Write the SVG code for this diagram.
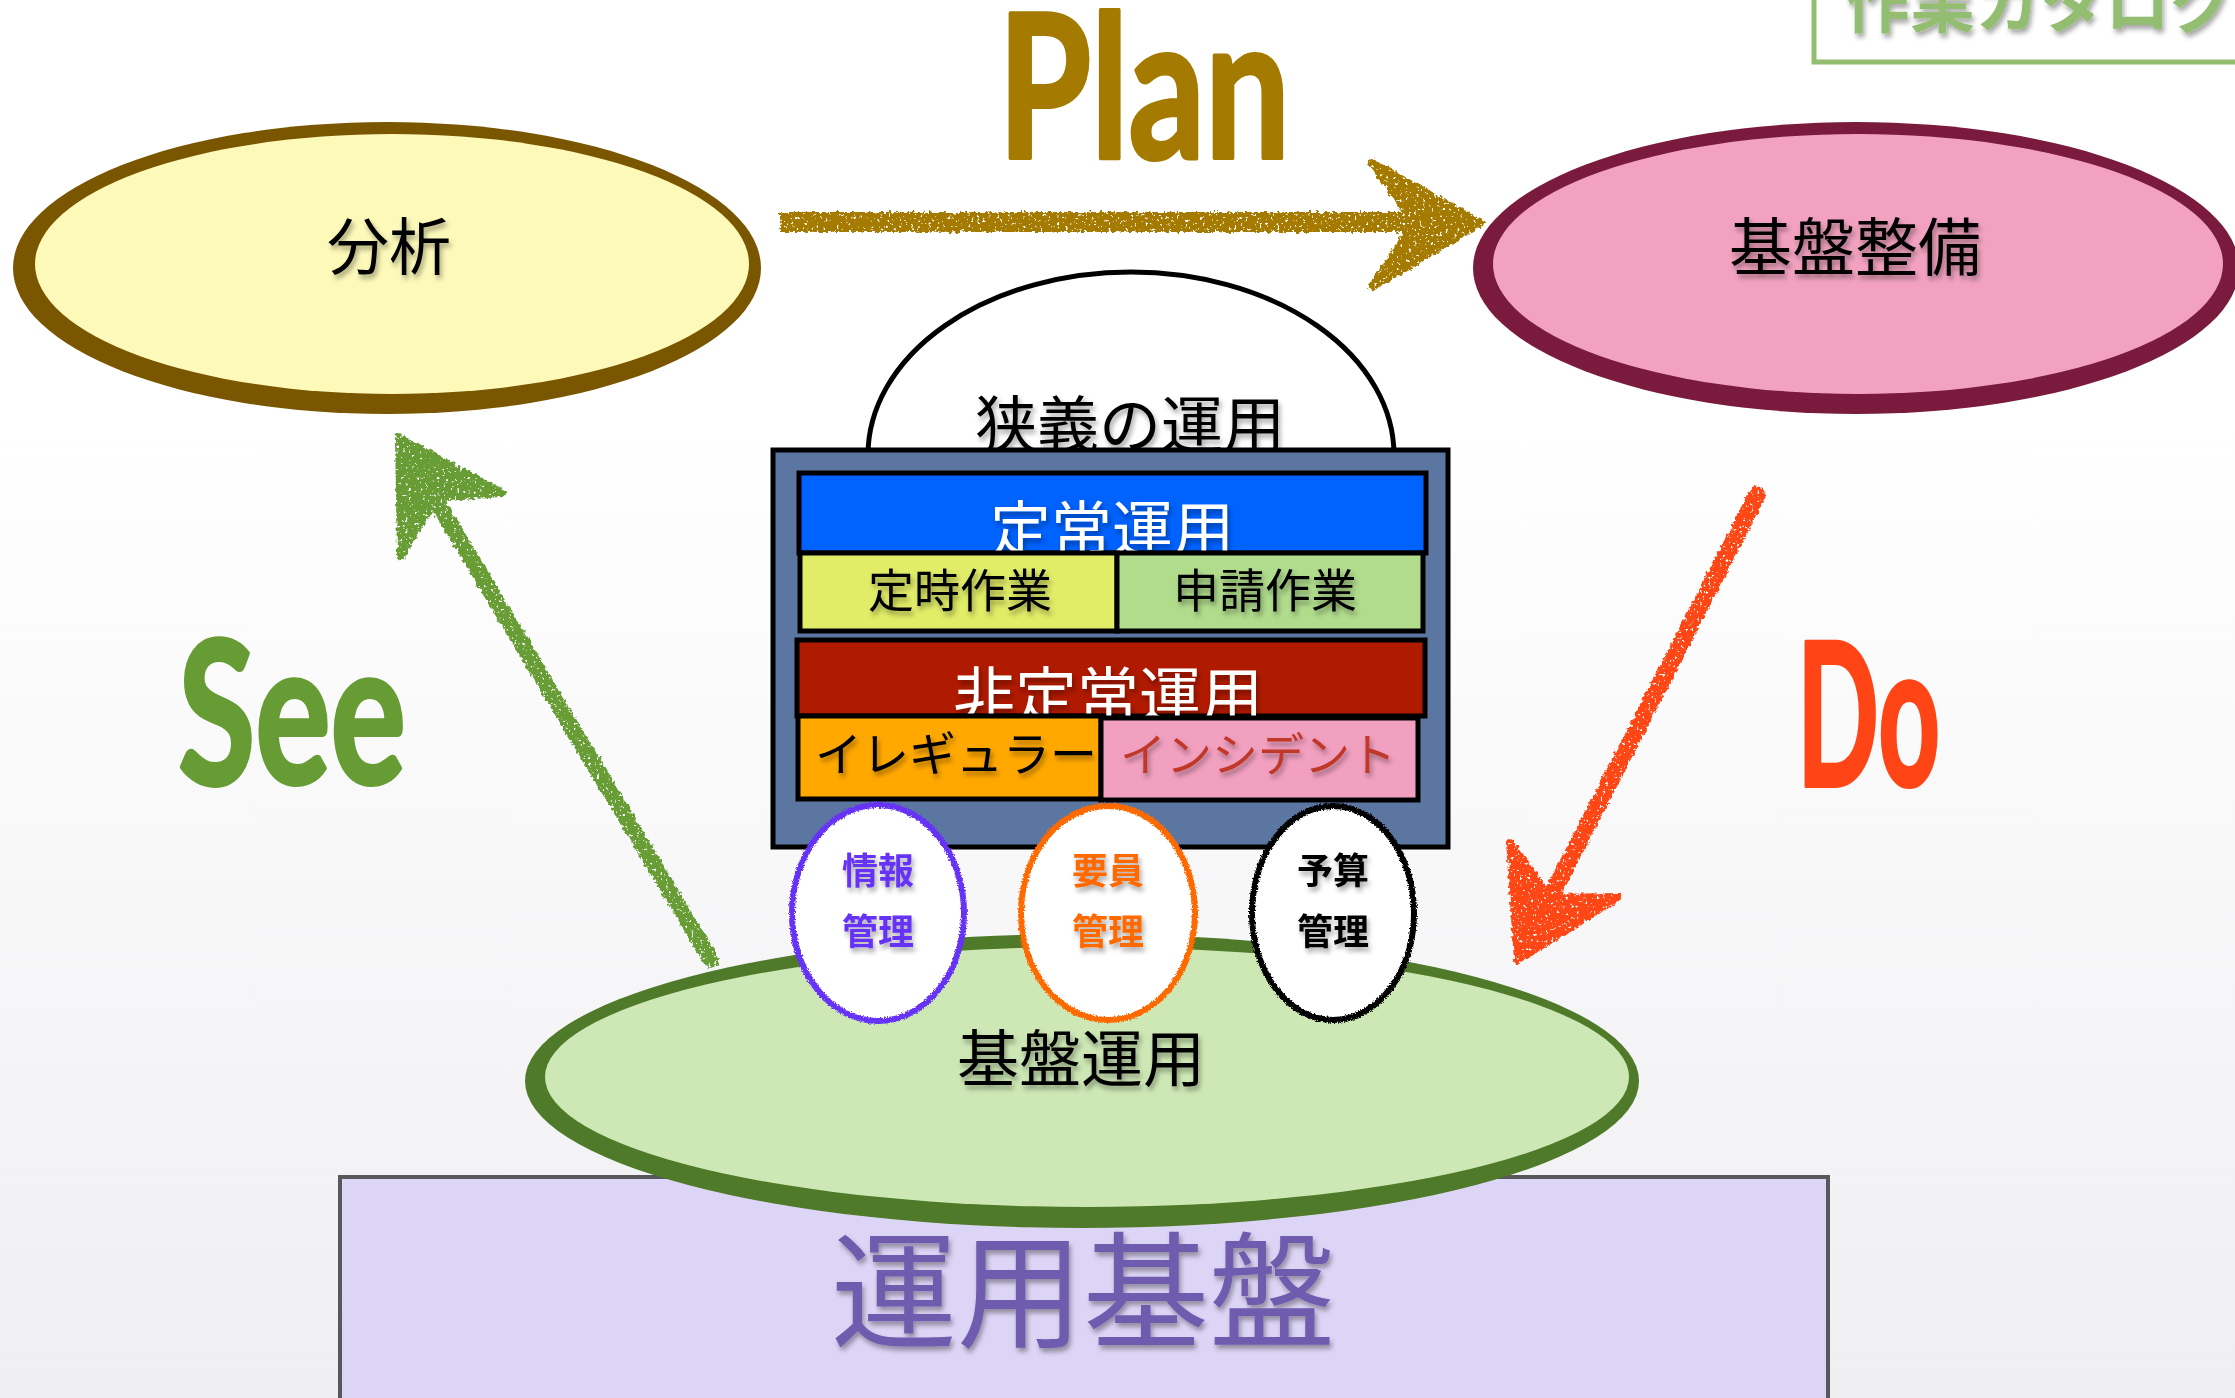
<svg xmlns="http://www.w3.org/2000/svg" width="2235" height="1398" viewBox="0 0 2235 1398">
<defs>
  <linearGradient id="bg" x1="0" y1="0" x2="0" y2="1">
    <stop offset="0" stop-color="#ffffff"/>
    <stop offset="0.3" stop-color="#ffffff"/>
    <stop offset="1" stop-color="#efeff2"/>
  </linearGradient>
  <filter id="ts" x="-20%" y="-30%" width="140%" height="170%">
    <feDropShadow dx="2" dy="4" stdDeviation="2.5" flood-color="#000" flood-opacity="0.35"/>
  </filter>
  <filter id="chalk" filterUnits="userSpaceOnUse" x="0" y="0" width="2235" height="1398">
    <feTurbulence type="fractalNoise" baseFrequency="0.25" numOctaves="2" seed="3" result="noise"/>
    <feDisplacementMap in="SourceGraphic" in2="noise" scale="6" xChannelSelector="R" yChannelSelector="G" result="disp"/>
    <feTurbulence type="fractalNoise" baseFrequency="0.35" numOctaves="2" seed="9" result="n2"/>
    <feColorMatrix in="n2" type="matrix" values="0 0 0 0 0  0 0 0 0 0  0 0 0 0 0  0 0 0 -10 7.4" result="holes"/>
    <feComposite in="disp" in2="holes" operator="in"/>
  </filter>
  <filter id="rough" filterUnits="userSpaceOnUse" x="0" y="0" width="2235" height="1398">
    <feTurbulence type="fractalNoise" baseFrequency="0.7" numOctaves="2" seed="5" result="noise"/>
    <feDisplacementMap in="SourceGraphic" in2="noise" scale="4" xChannelSelector="R" yChannelSelector="G"/>
  </filter>
  <style>
    .cjk { font-family: "Noto Sans CJK JP", "Noto Sans", sans-serif; }
    .hand { font-family: Lato, "Open Sans", sans-serif; font-weight: 700; stroke-width: 4; stroke-linejoin: round; }
    .bar { stroke: #000; stroke-width: 5; }
    .mgmt { fill: #fff; stroke-width: 6; }
    .mtext { font-family: "Noto Sans CJK JP", sans-serif; font-weight: 700; font-size: 36px; text-anchor: middle; }
  </style>
</defs>

<rect x="0" y="0" width="2235" height="1398" fill="url(#bg)"/>

<g id="catalog-box">
  <rect x="1814" y="-20" width="460" height="82" fill="#ffffff" stroke="#93bd6f" stroke-width="5"/>
  <text class="cjk" x="1845" y="27" font-size="65" font-weight="700" fill="#93bd6f" filter="url(#ts)">作業カタログ</text>
</g>

<g id="bunseki">
  <ellipse cx="387" cy="268" rx="374" ry="146" fill="#7a5600"/>
  <ellipse cx="392" cy="264" rx="357" ry="130" fill="#fdf9b9"/>
  <text class="cjk" x="389" y="270" font-size="62" text-anchor="middle" fill="#000" filter="url(#ts)">分析</text>
</g>

<g id="kiban-seibi">
  <ellipse cx="1856" cy="268" rx="383" ry="146" fill="#7a1b3d"/>
  <ellipse cx="1858" cy="264" rx="365" ry="130" fill="#f2a2c0"/>
  <text class="cjk" x="1855" y="270" font-size="63" text-anchor="middle" fill="#000" filter="url(#ts)">基盤整備</text>
</g>

<g id="unyou-kiban">
  <rect x="340" y="1177" width="1488" height="260" fill="#ddd5f6" stroke="#58585a" stroke-width="4"/>
  <text class="cjk" x="1083" y="1338" font-size="126" text-anchor="middle" fill="#6f5bae" filter="url(#ts)">運用基盤</text>
</g>

<g id="kiban-unyou">
  <ellipse cx="1082" cy="1081" rx="557" ry="147" fill="#4f7a29"/>
  <ellipse cx="1087" cy="1077" rx="542" ry="130" fill="#cde8b5"/>
  <text class="cjk" x="1081" y="1082" font-size="62" text-anchor="middle" fill="#000" filter="url(#ts)">基盤運用</text>
</g>

<g id="kyougi">
  <ellipse cx="1131" cy="455" rx="263" ry="183" fill="#ffffff" stroke="#000" stroke-width="5"/>
  <text class="cjk" x="1130" y="448" font-size="62" text-anchor="middle" fill="#000" filter="url(#ts)">狭義の運用</text>
</g>

<g id="ops-box">
  <rect x="773" y="450" width="675" height="397" fill="#5c76a2" stroke="#000" stroke-width="5"/>
</g>

<g id="teijou">
  <rect class="bar" x="799" y="473" width="627" height="80" fill="#0062ff"/>
  <text class="cjk" x="1112" y="552" font-size="61" text-anchor="middle" fill="#ffffff" filter="url(#ts)">定常運用</text>
</g>
<g id="teiji">
  <rect class="bar" x="800" y="553" width="317" height="78" fill="#e1ec67"/>
  <text class="cjk" x="960" y="607" font-size="46" text-anchor="middle" fill="#000" filter="url(#ts)">定時作業</text>
</g>
<g id="shinsei">
  <rect class="bar" x="1117" y="553" width="306" height="78" fill="#b1dc8c"/>
  <text class="cjk" x="1265" y="607" font-size="46" text-anchor="middle" fill="#000" filter="url(#ts)">申請作業</text>
</g>

<g id="hiteijou">
  <rect class="bar" x="797" y="640" width="628" height="76" fill="#b01a00"/>
  <text class="cjk" x="1108" y="719" font-size="62" text-anchor="middle" fill="#ffffff" filter="url(#ts)">非定常運用</text>
</g>
<g id="irregular">
  <rect class="bar" x="798" y="716" width="303" height="83" fill="#ffa800"/>
  <text class="cjk" x="956" y="771" font-size="47" text-anchor="middle" fill="#000" filter="url(#ts)">イレギュラー</text>
</g>
<g id="incident">
  <rect class="bar" x="1101" y="718" width="317" height="82" fill="#f2a0bf"/>
  <text class="cjk" x="1258" y="771" font-size="46" text-anchor="middle" fill="#c0392b" filter="url(#ts)">インシデント</text>
</g>

<g id="jouhou">
  <ellipse class="mgmt" cx="878" cy="913" rx="86" ry="108" stroke="#6633f5" filter="url(#rough)"/>
  <text class="mtext" x="878" y="884" fill="#6633f5" filter="url(#ts)">情報</text>
  <text class="mtext" x="878" y="945" fill="#6633f5" filter="url(#ts)">管理</text>
</g>
<g id="youin">
  <ellipse class="mgmt" cx="1108" cy="913" rx="87" ry="107" stroke="#ff6a00" filter="url(#rough)"/>
  <text class="mtext" x="1108" y="884" fill="#ff6a00" filter="url(#ts)">要員</text>
  <text class="mtext" x="1108" y="945" fill="#ff6a00" filter="url(#ts)">管理</text>
</g>
<g id="yosan">
  <ellipse class="mgmt" cx="1333" cy="913" rx="81" ry="107" stroke="#000" filter="url(#rough)"/>
  <text class="mtext" x="1333" y="884" fill="#000" filter="url(#ts)">予算</text>
  <text class="mtext" x="1333" y="945" fill="#000" filter="url(#ts)">管理</text>
</g>

<g id="connectors">
  <g id="plan-arrow" filter="url(#chalk)">
    <line x1="780" y1="222" x2="1440" y2="222" stroke="#a57a00" stroke-width="20"/>
    <polygon points="1372,163 1480,223 1372,287 1410,230 1410,216" fill="#a57a00" stroke="#a57a00" stroke-width="8" stroke-linejoin="round"/>
  </g>
  <text class="hand" x="998" y="158" font-size="200" textLength="292" lengthAdjust="spacingAndGlyphs" fill="#a57a00" stroke="#a57a00">Plan</text>

  <g id="do-arrow" filter="url(#chalk)">
    <line x1="1757" y1="495" x2="1545" y2="908" stroke="#ff4615" stroke-width="17" stroke-linecap="round"/>
    <polygon points="1518,960 1510,843 1550,898 1618,897" fill="#ff4615" stroke="#ff4615" stroke-width="8" stroke-linejoin="round"/>
  </g>
  <text class="hand" x="1797" y="786" font-size="200" textLength="143" lengthAdjust="spacingAndGlyphs" fill="#ff4515" stroke="#ff4515">Do</text>

  <g id="see-arrow" filter="url(#chalk)">
    <line x1="711" y1="960" x2="428" y2="487" stroke="#679c35" stroke-width="16" stroke-linecap="round"/>
    <polygon points="399,438 502,493 435,498 401,556" fill="#679c35" stroke="#679c35" stroke-width="8" stroke-linejoin="round"/>
  </g>
  <text class="hand" x="178" y="784" font-size="200" textLength="228" lengthAdjust="spacingAndGlyphs" fill="#679c35" stroke="#679c35">See</text>
</g>
</svg>
